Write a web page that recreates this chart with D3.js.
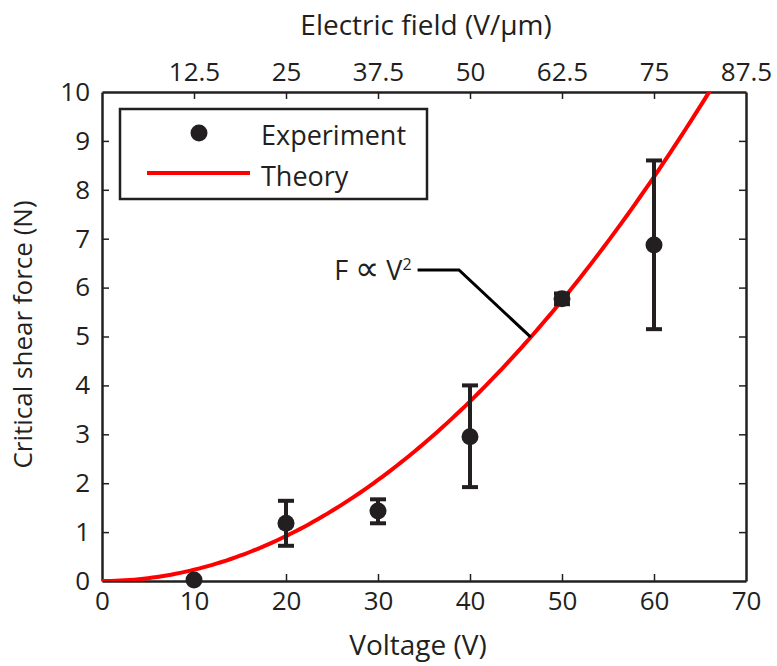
<!DOCTYPE html>
<html>
<head>
<meta charset="utf-8">
<script src="https://cdn.jsdelivr.net/npm/d3@7"></script>
<style>
  body { margin: 0; background: #fff; }
  text { font-family: "Open Sans", "Noto Sans", sans-serif; fill: #231f20; }
</style>
</head>
<body>
<div id="chart"></div>
<script>
// measured critical shear force vs applied voltage
const voltage = [10, 20, 30, 40, 50, 60]
const force = [0.02, 1.18, 1.43, 2.95, 5.77, 6.87]
const errLow = [0.02, 0.72, 1.18, 1.92, 5.66, 5.15]
const errHigh = [0.02, 1.64, 1.67, 4.0, 5.88, 8.6]

// theory F = k V^2
const kTheory = 0.002296
const theoryV = d3.range(0, 70.01, 0.5)

const xTicks = [0, 10, 20, 30, 40, 50, 60, 70]
const yTicks = [0, 1, 2, 3, 4, 5, 6, 7, 8, 9, 10]
const fieldTicks = [12.5, 25, 37.5, 50, 62.5, 75, 87.5]

const margin = {top: 92, right: 31, bottom: 85, left: 102}
const W = 777, H = 666
const width = W - margin.left - margin.right
const height = H - margin.top - margin.bottom
const ink = "#231f20"

const svg = d3.select("#chart").append("svg")
    .attr("width", W)
    .attr("height", H)

const g = svg.append("g")
    .attr("transform", `translate(${margin.left}, ${margin.top})`)

const x = d3.scaleLinear().domain([0, 70]).range([0, width])
const y = d3.scaleLinear().domain([0, 10]).range([height, 0])
const xTop = d3.scaleLinear().domain([0, 87.5]).range([0, width])

g.append("clipPath").attr("id", "plotclip")
    .append("rect").attr("width", width).attr("height", height)

// axes with inward ticks
function styleAxis(sel) {
    sel.selectAll("path").attr("stroke", ink).attr("stroke-width", 2.5)
    sel.selectAll("line").attr("stroke", ink).attr("stroke-width", 1.5)
    sel.selectAll("text").style("font-size", "26px").attr("fill", ink)
}

g.append("g")
    .attr("transform", `translate(0, ${height})`)
    .call(d3.axisBottom(x).tickValues(xTicks).tickSizeInner(-7).tickSizeOuter(0).tickPadding(11))
    .call(styleAxis)
    .selectAll(".tick").filter(d => d == 0 || d == 70).select("line").remove()

g.append("g")
    .call(d3.axisLeft(y).tickValues(yTicks).tickSizeInner(-7).tickSizeOuter(0).tickPadding(12))
    .call(styleAxis)
    .selectAll(".tick").filter(d => d == 0 || d == 10).select("line").remove()

g.append("g")
    .call(d3.axisTop(xTop).tickValues(fieldTicks).tickFormat(d => d).tickSizeInner(-7).tickSizeOuter(0).tickPadding(11))
    .call(styleAxis)
    .selectAll(".tick").filter(d => d == 87.5).select("line").remove()

g.append("g")
    .attr("transform", `translate(${width}, 0)`)
    .call(d3.axisRight(y).tickValues(yTicks).tickSizeInner(-7).tickSizeOuter(0).tickFormat(""))
    .call(styleAxis)
    .selectAll(".tick").filter(d => d == 0 || d == 10).select("line").remove()

// axis titles
g.append("text")
    .attr("x", width / 2 - 6)
    .attr("y", height + 74)
    .attr("text-anchor", "middle")
    .style("font-size", "28px")
    .text("Voltage (V)")

g.append("text")
    .attr("x", width / 2 + 2)
    .attr("y", -57)
    .attr("text-anchor", "middle")
    .style("font-size", "28px")
    .text("Electric field (V/\u03bcm)")

g.append("text")
    .attr("transform", `translate(-70, ${height / 2 - 2}) rotate(-90)`)
    .attr("text-anchor", "middle")
    .style("font-size", "26px")
    .text("Critical shear force (N)")

// theory curve
g.append("path")
    .datum(theoryV)
    .attr("clip-path", "url(#plotclip)")
    .attr("fill", "none")
    .attr("stroke", "#ff0000")
    .attr("stroke-width", 4)
    .attr("d", d3.line().x(v => x(v)).y(v => y(kTheory * v * v)))

// error bars and points
const pts = voltage.map((v, i) => ({v: v, f: force[i], lo: errLow[i], hi: errHigh[i]}))
const bars = g.append("g").selectAll("g").data(pts.filter(d => d.hi > d.lo)).join("g")
    .attr("stroke", ink).attr("stroke-width", 4)
bars.append("line")
    .attr("x1", d => x(d.v)).attr("x2", d => x(d.v))
    .attr("y1", d => y(d.lo)).attr("y2", d => y(d.hi))
bars.append("line")
    .attr("x1", d => x(d.v) - 8).attr("x2", d => x(d.v) + 8)
    .attr("y1", d => y(d.lo)).attr("y2", d => y(d.lo))
bars.append("line")
    .attr("x1", d => x(d.v) - 8).attr("x2", d => x(d.v) + 8)
    .attr("y1", d => y(d.hi)).attr("y2", d => y(d.hi))

g.append("g").selectAll("circle").data(pts).join("circle")
    .attr("cx", d => x(d.v))
    .attr("cy", d => y(d.f))
    .attr("r", 8.5)
    .attr("fill", ink)

// annotation pointing at the theory curve
const vMark = 46.6
const tip = [x(vMark), y(kTheory * vMark * vMark)]
g.append("path")
    .attr("fill", "none")
    .attr("stroke", "#000")
    .attr("stroke-width", 3)
    .attr("d", `M${x(34.3)},${y(6.36)} H${x(38.8)} L${tip[0]},${tip[1]}`)

const ann = g.append("text")
    .attr("x", x(34.3) - 6)
    .attr("y", y(6.36) + 10)
    .attr("text-anchor", "end")
    .style("font-size", "27px")
ann.append("tspan").text("F ")
ann.append("tspan").style("font-size", "34px").text("\u221d")
ann.append("tspan").text(" V")
ann.append("tspan").attr("dy", -10).style("font-size", "16px").text("2")

// legend
const leg = g.append("g").attr("transform", "translate(18, 17)")
leg.append("rect")
    .attr("width", 307).attr("height", 90)
    .attr("fill", "#fff").attr("stroke", ink).attr("stroke-width", 2.5)
leg.append("circle").attr("cx", 79).attr("cy", 24).attr("r", 8.5).attr("fill", ink)
leg.append("line")
    .attr("x1", 27).attr("x2", 130).attr("y1", 64).attr("y2", 64)
    .attr("stroke", "#ff0000").attr("stroke-width", 4)
leg.append("text").attr("x", 141).attr("y", 36).style("font-size", "27px").text("Experiment")
leg.append("text").attr("x", 141).attr("y", 77).style("font-size", "27px").text("Theory")
</script>
</body>
</html>
